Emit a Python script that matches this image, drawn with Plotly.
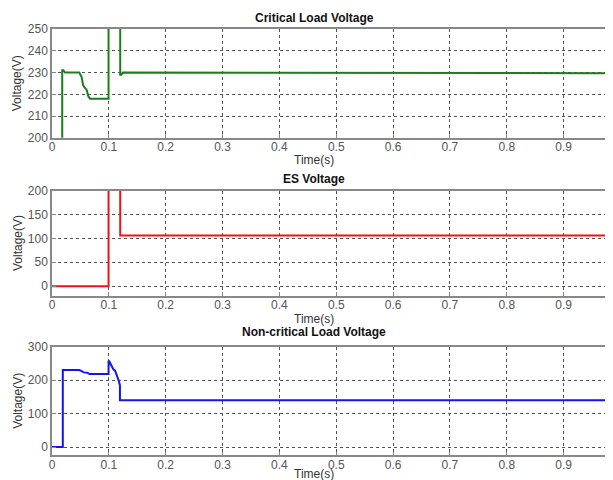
import plotly.graph_objects as go

# Critical load voltage
t_crit = [0, 0.018, 0.018, 0.020, 0.023, 0.048, 0.052, 0.055, 0.058, 0.061, 0.064, 0.067, 0.070, 0.0995, 0.0995, 0.120, 0.120, 0.122, 0.125, 0.48, 0.48, 1.01]
v_crit = [0, 0, 231, 231, 230, 230, 228, 224, 223, 222, 219, 218, 218, 218, 400, 400, 229, 229, 230, 230, 229.7, 229.7]

# ES voltage
t_es = [0, 0.0995, 0.0995, 0.120, 0.120, 1.01]
v_es = [0, 0, 400, 400, 106, 106]

# Non-critical load voltage
t_nc = [0, 0.019, 0.019, 0.048, 0.052, 0.056, 0.062, 0.066, 0.0995, 0.0995, 0.101, 0.103, 0.106, 0.108, 0.111, 0.114, 0.117, 0.1195, 0.1195, 1.01]
v_nc = [0, 0, 230, 230, 227, 223, 222, 218, 218, 258, 255, 248, 235, 232, 228, 215, 200, 185, 140, 140]

titles = ["Critical Load Voltage", "ES Voltage", "Non-critical Load Voltage"]
x_ticks = [0, 0.1, 0.2, 0.3, 0.4, 0.5, 0.6, 0.7, 0.8, 0.9, 1.0]
x_tick_labels = ["0", "0.1", "0.2", "0.3", "0.4", "0.5", "0.6", "0.7", "0.8", "0.9", "1"]

W, H = 613.0, 480.0
# empirical mapping between intended screen pixels and figure pixels
def fy(page_y):
    return (page_y - 14) / 0.972
def fx(page_x):
    return (page_x - 8) / 0.992
def py(page_y):
    return 1 - fy(page_y) / H

L = fx(52)
plot_w = W - L
def px(page_x):
    return (fx(page_x) - L) / plot_w

unit = (fx(561) - L) / 0.9
xmax = plot_w / unit

fig = go.Figure()
fig.add_trace(go.Scatter(x=t_crit, y=v_crit, mode="lines", line=dict(color="#1a7f1a", width=2), xaxis="x", yaxis="y"))
fig.add_trace(go.Scatter(x=t_es, y=v_es, mode="lines", line=dict(color="#e8141c", width=2), xaxis="x2", yaxis="y2"))
fig.add_trace(go.Scatter(x=t_nc, y=v_nc, mode="lines", line=dict(color="#1414f0", width=2), xaxis="x3", yaxis="y3"))

axfont = dict(family="Arial, Liberation Sans, sans-serif", size=12, color="#555555")
common_x = dict(range=[0, xmax], tickvals=x_ticks, ticktext=x_tick_labels, showgrid=True,
                gridcolor="#555555", griddash="dot", gridwidth=1, showline=True, linecolor="#888888",
                linewidth=1.5, mirror=True, ticks="inside", ticklen=4, tickcolor="#888888",
                tickfont=axfont, zeroline=False, domain=[0, 1], ticklabelstandoff=-3)
common_y = dict(showgrid=True, gridcolor="#555555", griddash="dot", gridwidth=1, showline=True,
                linecolor="#888888", linewidth=1.5, mirror=True, ticks="inside", ticklen=4,
                tickcolor="#888888", tickfont=axfont, zeroline=False)

doms = [(28, 137), (190, 295), (346, 455)]
fig.update_layout(
    xaxis=dict(common_x, anchor="y"),
    xaxis2=dict(common_x, anchor="y2"),
    xaxis3=dict(common_x, anchor="y3"),
    yaxis=dict(common_y, range=[200, 250], tickvals=[200, 210, 220, 230, 240, 250], domain=[py(doms[0][1]), py(doms[0][0])], anchor="x"),
    yaxis2=dict(common_y, range=[-20, 200], tickvals=[0, 50, 100, 150, 200], domain=[py(doms[1][1]), py(doms[1][0])], anchor="x2"),
    yaxis3=dict(common_y, range=[-25, 300], tickvals=[0, 100, 200, 300], domain=[py(doms[2][1]), py(doms[2][0])], anchor="x3"),
    width=int(W), height=int(H),
    margin=dict(l=L, r=0, t=0, b=0),
    paper_bgcolor="white", plot_bgcolor="white",
    showlegend=False,
)

title_y = [17, 178, 331]
xlabel_y = [159, 318, 474]
for i in range(3):
    fig.add_annotation(text="<b>" + titles[i] + "</b>", x=px(313), y=py(title_y[i]), xref="paper", yref="paper",
                       showarrow=False, font=dict(family="Arial, Liberation Sans, sans-serif", size=12, color="#111111"),
                       xanchor="center", yanchor="middle")
    fig.add_annotation(text="Time(s)", x=px(313), y=py(xlabel_y[i]), xref="paper", yref="paper",
                       showarrow=False, font=dict(family="Arial, Liberation Sans, sans-serif", size=12, color="#333333"),
                       xanchor="center", yanchor="middle")
    ymid = (doms[i][0] + doms[i][1]) / 2
    fig.add_annotation(text="Voltage(V)", x=px(18), y=py(ymid), xref="paper", yref="paper",
                       showarrow=False, textangle=-90,
                       font=dict(family="Arial, Liberation Sans, sans-serif", size=12, color="#333333"),
                       xanchor="center", yanchor="middle")

fig.write_html("out.html")
